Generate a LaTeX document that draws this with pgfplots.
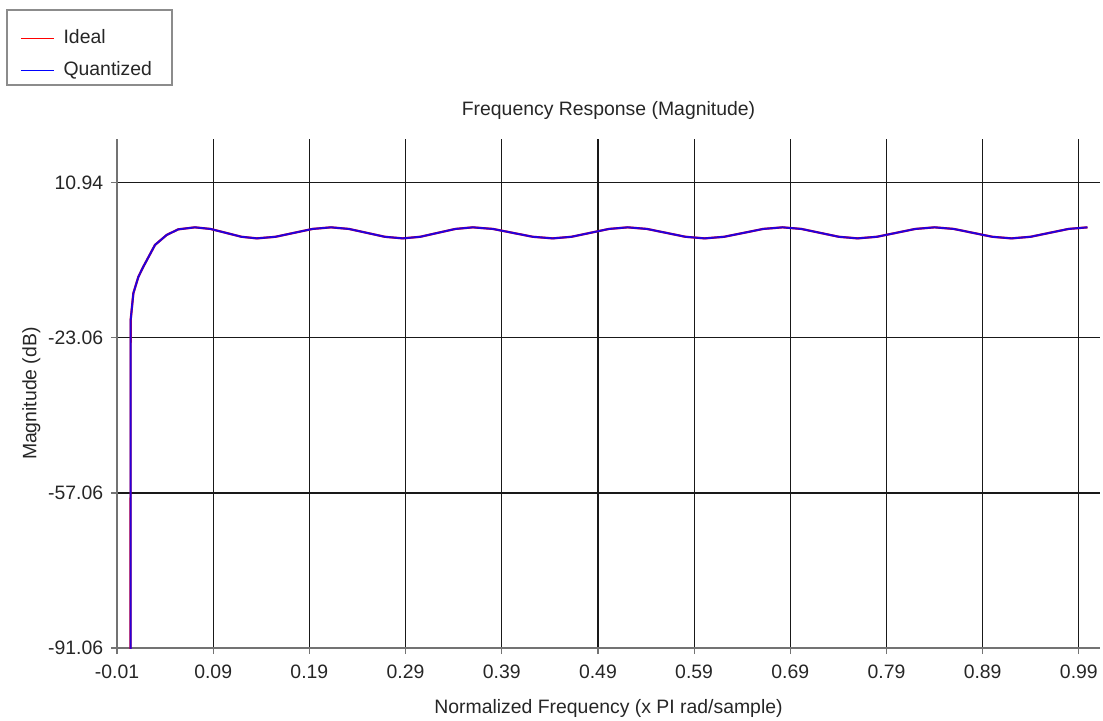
\documentclass[border=0pt]{standalone}
\usepackage{fontspec}
\setmainfont{Liberation Sans}
\usepackage{pgfplots}
\usepackage{pgfplotstable}
\pgfplotsset{compat=1.18}
\pgfplotstableread{
x y
0.0040 -150
0.0042 -19.2
0.0070 -13.3
0.0122 -9.7
0.0173 -7.5
0.0295 -2.7
0.0417 -0.5
0.0537 0.72
0.0710 1.16
0.0871 0.81
0.1033 -0.05
0.1194 -0.91
0.1355 -1.26
0.1548 -0.91
0.1740 -0.05
0.1933 0.81
0.2125 1.16
0.2311 0.81
0.2498 -0.05
0.2684 -0.91
0.2870 -1.26
0.3053 -0.91
0.3235 -0.05
0.3418 0.81
0.3600 1.16
0.3808 0.81
0.4015 -0.05
0.4223 -0.91
0.4430 -1.26
0.4625 -0.91
0.4820 -0.05
0.5015 0.81
0.5210 1.16
0.5410 0.81
0.5610 -0.05
0.5810 -0.91
0.6010 -1.26
0.6213 -0.91
0.6415 -0.05
0.6618 0.81
0.6820 1.16
0.7015 0.81
0.7210 -0.05
0.7405 -0.91
0.7600 -1.26
0.7800 -0.91
0.8000 -0.05
0.8200 0.81
0.8400 1.16
0.8600 0.81
0.8800 -0.05
0.9000 -0.91
0.9200 -1.26
0.9398 -0.91
0.9595 -0.05
0.9793 0.81
0.9990 1.16
}\resp
\newcommand{\chartfont}{\fontsize{9.7}{11.5}\selectfont}
\begin{document}
\chartfont
\begin{tikzpicture}
\path[use as bounding box] (0,0) rectangle (551.5pt,360pt);
\begin{axis}[
  at={(58.5pt,36pt)}, anchor=south west,
  scale only axis, width=491.5pt, height=254.35pt,
  xmin=-0.01, xmax=1.012, ymin=-91.06, ymax=20.46,
  xtick={-0.01,0.09,0.19,0.29,0.39,0.49,0.59,0.69,0.79,0.89,0.99},
  xticklabels={-0.01,0.09,0.19,0.29,0.39,0.49,0.59,0.69,0.79,0.89,0.99},
  ytick={-91.06,-57.06,-23.06,10.94},
  yticklabels={-91.06,-57.06,-23.06,10.94},
  grid=major, major grid style={black!90, line width=0.6pt},
  axis x line*=bottom, axis y line*=left,
  axis line style={black!55, line width=0.6pt, -},
  tick align=outside, major tick length=3pt,
  tick style={black!55, line width=0.6pt},
  ticklabel style={font=\chartfont, text=black!85},
  xticklabel style={yshift=-2pt},
  yticklabel style={xshift=-0.5pt},
  every axis title shift=0pt,
  title={Frequency Response (Magnitude)},
  title style={at={(0.5,1.0576)}, anchor=center, font=\chartfont, text=black!85},
  xlabel={Normalized Frequency (x PI rad/sample)},
  xlabel style={at={(0.5,-0.118)}, anchor=center, font=\chartfont, text=black!85},
  ylabel={Magnitude (dB)},
  ylabel style={at={(-0.087,0.5)}, anchor=center, font=\chartfont, text=black!85},
  legend style={at={(-0.0987,1.2168)}, anchor=north west, draw=none, fill=none,
    inner sep=0pt, row sep=7pt, column sep=4.5pt, font=\chartfont, text=black!85,
    nodes={inner sep=0pt, text height=7pt, text depth=2pt, anchor=west}},
  legend cell align=left,
  legend image code/.code={\draw[#1, line width=0.6pt, opacity=1] (0pt,0pt) -- (16.5pt,0pt);},
]
\addplot[red, line width=1.1pt] table[x=x,y=y] {\resp};
\addlegendentry{Ideal}
\addplot[blue, line width=1pt, opacity=0.85] table[x=x,y=y] {\resp};
\addlegendentry{Quantized}
\end{axis}
\draw[black!45, line width=0.6pt] (3.5pt,317.5pt) rectangle (86pt,355pt);
\end{tikzpicture}
\end{document}
